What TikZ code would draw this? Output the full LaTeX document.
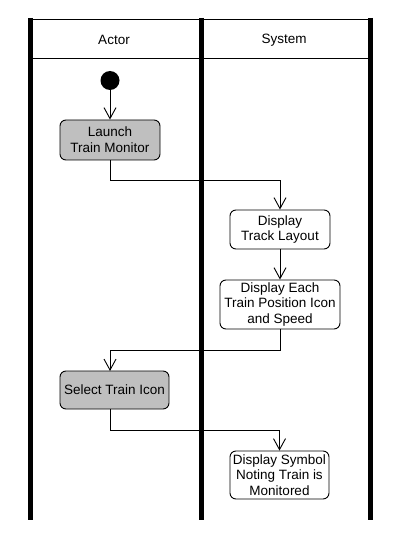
\documentclass[tikz,border=0pt]{standalone}
\usepackage{fontspec}
\setmainfont{Liberation Sans}
\usetikzlibrary{arrows.meta}
\tikzset{
  lane/.style={line width=5pt},
  thin/.style={line width=1pt},
  act/.style={draw=black, line width=0.9pt, rounded corners=6pt, align=center, inner sep=0pt,
    font=\fontsize{13.5}{15.7}\selectfont},
  actgray/.style={act, fill=black!25},
  conn/.style={line width=0.9pt, -{Straight Barb[length=11pt,width=12pt,line width=0.9pt]}},
  plain/.style={line width=0.9pt},
  head/.style={font=\fontsize{13.5}{16}\selectfont}
}
\begin{document}
\begin{tikzpicture}[x=1pt,y=-1pt]
\useasboundingbox (0,0) rectangle (400,540);
% swimlanes
\draw[thin] (30,20) -- (370,20);
\draw[thin] (30,59) -- (370,59);
\draw[lane] (30,18) -- (30,520);
\draw[lane] (201,18) -- (201,520);
\draw[lane] (370.5,18) -- (370.5,520);
\node[head] (hactor) at (114,40) {Actor};
\node[head] (hsys) at (284,40) {System};
% nodes
\node[circle, fill=black, minimum size=19pt, inner sep=0pt] (start) at (110,80.5) {};
\node[actgray, minimum width=100pt, minimum height=40pt] (launch) at (110,140) {Launch\\Train Monitor};
\node[act, minimum width=100pt, minimum height=39pt] (track) at (280,229.5) {Display\\Track Layout};
\node[act, minimum width=120pt, minimum height=49pt] (each) at (280,304.5) {Display Each\\Train Position Icon\\and Speed};
\node[actgray, minimum width=109pt, minimum height=38pt] (select) at (114.5,390) {Select Train Icon};
\node[act, minimum width=99pt, minimum height=48pt] (symbol) at (279.5,475) {Display Symbol\\Noting Train is\\Monitored};
\coordinate (selin) at (110,371);
\coordinate (selout) at (110,409);
% connectors
\draw[conn] (start) -- (launch.north);
\draw[conn] (launch.south) -- ++(0,20) -| (track.north);
\draw[conn] (track.south) -- (each.north);
\draw[conn] (each.south) -- ++(0,21) -| (selin);
\draw[conn] (selout) -- ++(0,21) -| (symbol.north);
\end{tikzpicture}
\end{document}
